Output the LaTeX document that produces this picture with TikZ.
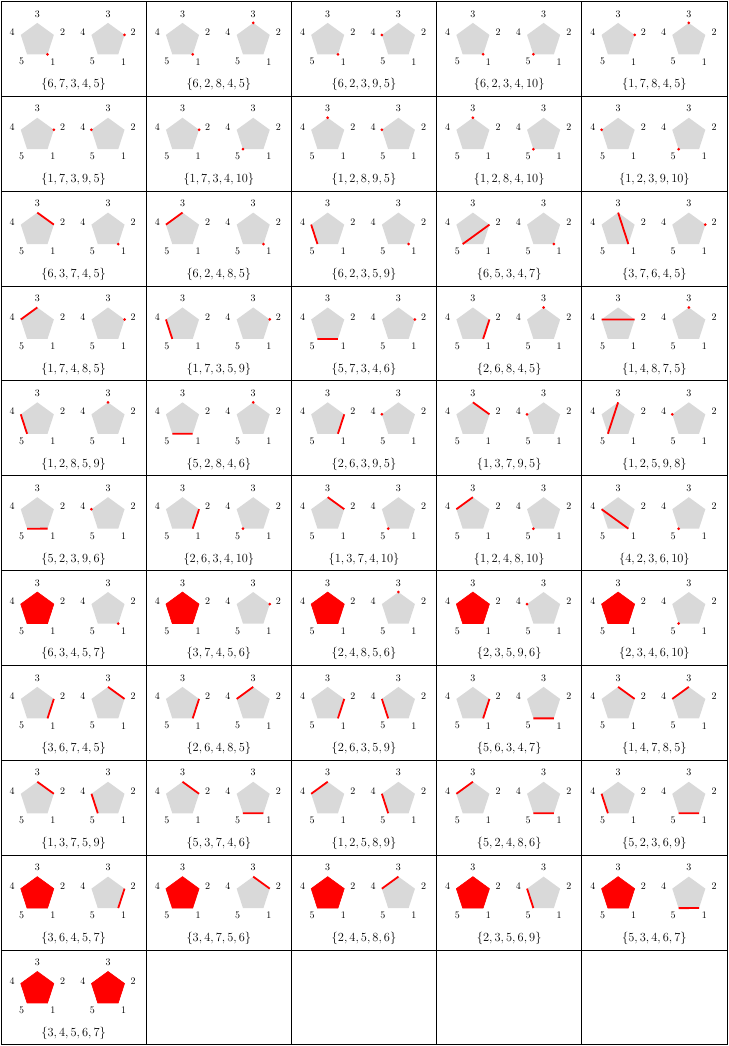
\documentclass[tikz,border=0pt]{standalone}
\usepackage{fix-cm}
\usetikzlibrary{calc}
\tikzset{
  pentgray/.style={fill=black!15},
  redfill/.style={fill=red,draw=red,line width=0.6pt,line join=miter},
  rededge/.style={draw=red,line width=1.8pt},
  reddot/.style={fill=red},
  lbl/.style={inner sep=0pt,font=\fontsize{10}{12}\selectfont},
  captxt/.style={inner sep=0pt,anchor=base,font=\fontsize{12.4}{14}\selectfont},
  gridline/.style={draw=black,line width=1pt}
}
\newcommand\drawpent[3]{%
  \coordinate (#1) at (#2,-38.8);
  \foreach \k in {1,...,5}{\coordinate (#1-\k) at ($(#1)+({-54+72*(\k-1)}:17.4)$);}
  \fill[pentgray] (#1-1)--(#1-2)--(#1-3)--(#1-4)--(#1-5)--cycle;
  \foreach \k in {1,...,5}{\node[lbl] (#1-l\k) at ($(#1)+({-54+72*(\k-1)}:26.5)$) {\k};}
  \def\cur{#1}#3%
}
\newcommand\vd[1]{\fill[reddot] (\cur-#1) circle[radius=1.5];}
\newcommand\ve[2]{\draw[rededge] (\cur-#1) -- ($(\cur-#2)+(0.01,0.03)$);}
\newcommand\vf{\filldraw[redfill] (\cur-1)--(\cur-2)--(\cur-3)--(\cur-4)--(\cur-5)--cycle;}
\newcommand\cellC[5]{%
  \begin{scope}[shift={({1+145.2*#1},{1044.5-94.86*#2})}]
    \drawpent{p#1-#2L}{36.3}{#4}
    \drawpent{p#1-#2R}{107}{#5}
    \node[captxt] (cap#1-#2) at (72.6,-86.3) {$\{#3\}$};
  \end{scope}}
\begin{document}
\begin{tikzpicture}[x=1pt,y=1pt]
\useasboundingbox (0,0) rectangle (728,1046);
% row 0
\cellC{0}{0}{6,7,3,4,5}{\vd1}{\vd2}
\cellC{1}{0}{6,2,8,4,5}{\vd1}{\vd3}
\cellC{2}{0}{6,2,3,9,5}{\vd1}{\vd4}
\cellC{3}{0}{6,2,3,4,10}{\vd1}{\vd5}
\cellC{4}{0}{1,7,8,4,5}{\vd2}{\vd3}
% row 1
\cellC{0}{1}{1,7,3,9,5}{\vd2}{\vd4}
\cellC{1}{1}{1,7,3,4,10}{\vd2}{\vd5}
\cellC{2}{1}{1,2,8,9,5}{\vd3}{\vd4}
\cellC{3}{1}{1,2,8,4,10}{\vd3}{\vd5}
\cellC{4}{1}{1,2,3,9,10}{\vd4}{\vd5}
% row 2
\cellC{0}{2}{6,3,7,4,5}{\ve32}{\vd1}
\cellC{1}{2}{6,2,4,8,5}{\ve43}{\vd1}
\cellC{2}{2}{6,2,3,5,9}{\ve54}{\vd1}
\cellC{3}{2}{6,5,3,4,7}{\ve52}{\vd1}
\cellC{4}{2}{3,7,6,4,5}{\ve31}{\vd2}
% row 3
\cellC{0}{3}{1,7,4,8,5}{\ve43}{\vd2}
\cellC{1}{3}{1,7,3,5,9}{\ve54}{\vd2}
\cellC{2}{3}{5,7,3,4,6}{\ve51}{\vd2}
\cellC{3}{3}{2,6,8,4,5}{\ve12}{\vd3}
\cellC{4}{3}{1,4,8,7,5}{\ve42}{\vd3}
% row 4
\cellC{0}{4}{1,2,8,5,9}{\ve54}{\vd3}
\cellC{1}{4}{5,2,8,4,6}{\ve51}{\vd3}
\cellC{2}{4}{2,6,3,9,5}{\ve12}{\vd4}
\cellC{3}{4}{1,3,7,9,5}{\ve32}{\vd4}
\cellC{4}{4}{1,2,5,9,8}{\ve35}{\vd4}
% row 5
\cellC{0}{5}{5,2,3,9,6}{\ve51}{\vd4}
\cellC{1}{5}{2,6,3,4,10}{\ve12}{\vd5}
\cellC{2}{5}{1,3,7,4,10}{\ve32}{\vd5}
\cellC{3}{5}{1,2,4,8,10}{\ve43}{\vd5}
\cellC{4}{5}{4,2,3,6,10}{\ve41}{\vd5}
% row 6
\cellC{0}{6}{6,3,4,5,7}{\vf}{\vd1}
\cellC{1}{6}{3,7,4,5,6}{\vf}{\vd2}
\cellC{2}{6}{2,4,8,5,6}{\vf}{\vd3}
\cellC{3}{6}{2,3,5,9,6}{\vf}{\vd4}
\cellC{4}{6}{2,3,4,6,10}{\vf}{\vd5}
% row 7
\cellC{0}{7}{3,6,7,4,5}{\ve12}{\ve32}
\cellC{1}{7}{2,6,4,8,5}{\ve12}{\ve43}
\cellC{2}{7}{2,6,3,5,9}{\ve12}{\ve54}
\cellC{3}{7}{5,6,3,4,7}{\ve12}{\ve51}
\cellC{4}{7}{1,4,7,8,5}{\ve32}{\ve43}
% row 8
\cellC{0}{8}{1,3,7,5,9}{\ve32}{\ve54}
\cellC{1}{8}{5,3,7,4,6}{\ve32}{\ve51}
\cellC{2}{8}{1,2,5,8,9}{\ve43}{\ve54}
\cellC{3}{8}{5,2,4,8,6}{\ve43}{\ve51}
\cellC{4}{8}{5,2,3,6,9}{\ve54}{\ve51}
% row 9
\cellC{0}{9}{3,6,4,5,7}{\vf}{\ve12}
\cellC{1}{9}{3,4,7,5,6}{\vf}{\ve32}
\cellC{2}{9}{2,4,5,8,6}{\vf}{\ve43}
\cellC{3}{9}{2,3,5,6,9}{\vf}{\ve54}
\cellC{4}{9}{5,3,4,6,7}{\vf}{\ve51}
% row 10
\cellC{0}{10}{3,4,5,6,7}{\vf}{\vf}
% grid
\foreach \i in {0,...,5}{\draw[gridline] ({1+145.2*\i},1044.5) -- ({1+145.2*\i},{1044.5-94.86*11});}
\foreach \j in {0,...,11}{\draw[gridline] (1,{1044.5-94.86*\j}) -- (727,{1044.5-94.86*\j});}
\end{tikzpicture}
\end{document}
